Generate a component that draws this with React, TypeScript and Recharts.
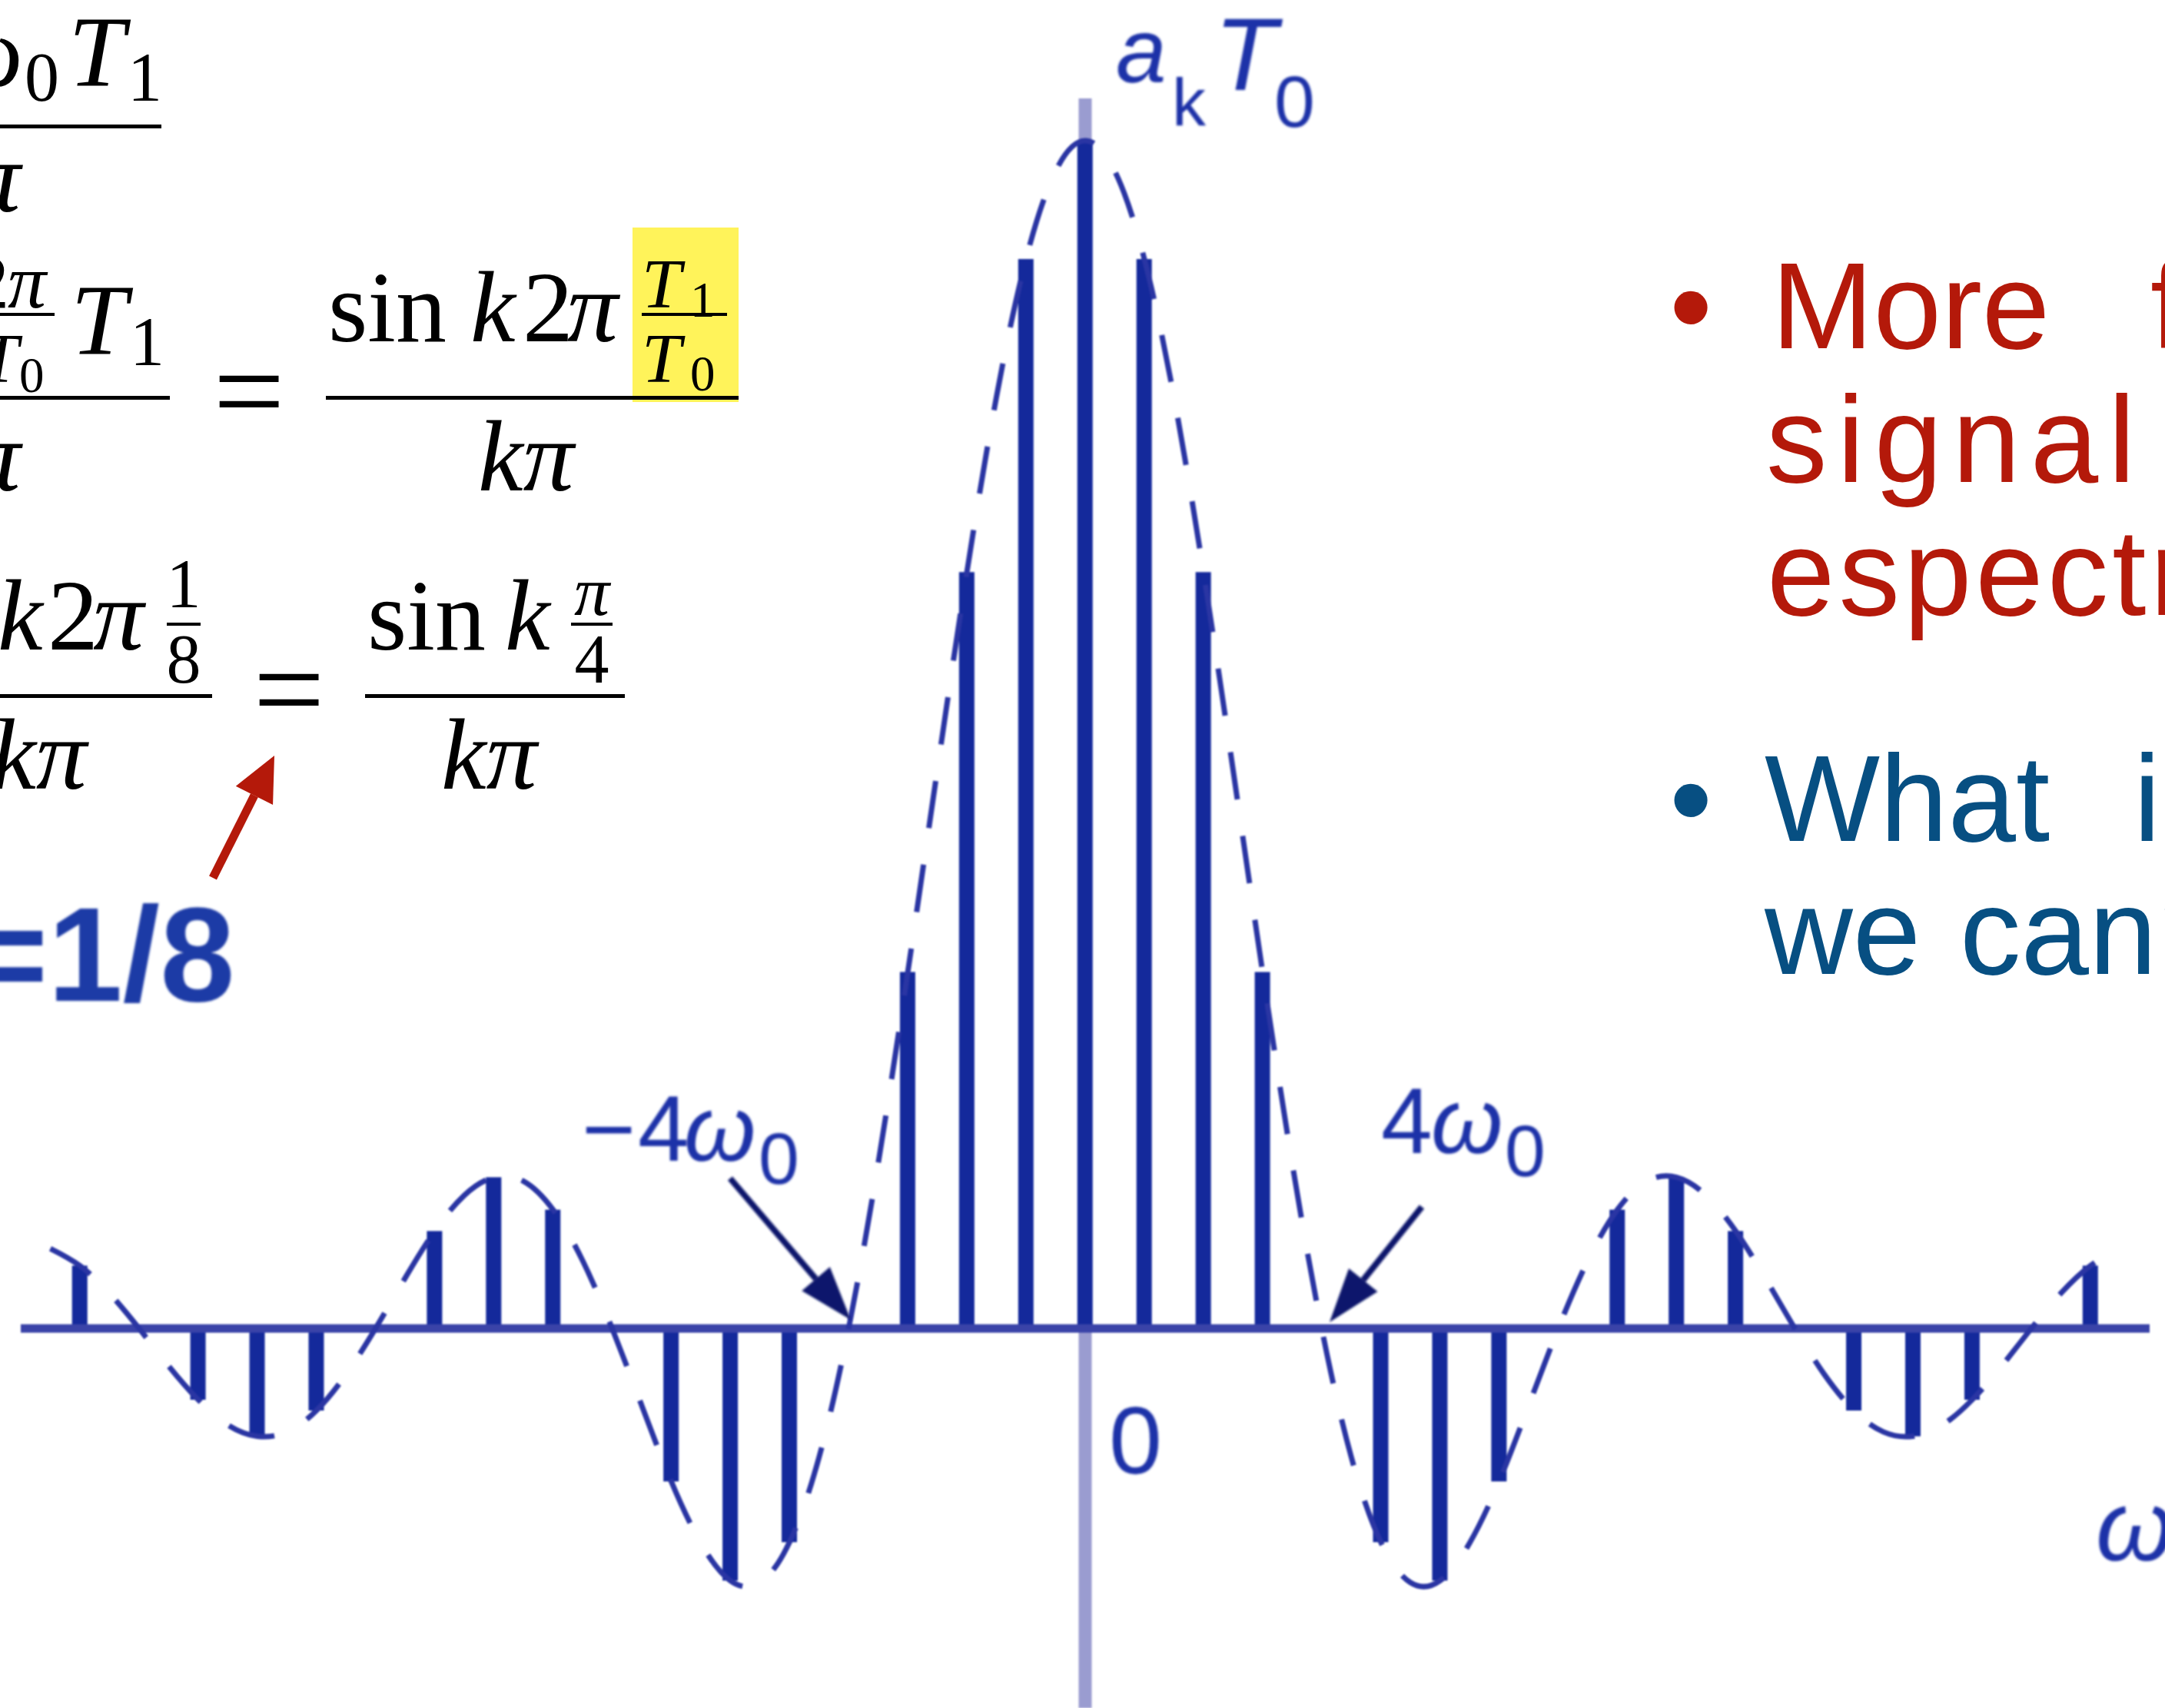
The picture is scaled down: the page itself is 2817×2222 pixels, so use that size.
import React from 'react';
import { ComposedChart, Bar, Line, XAxis, YAxis, ReferenceLine, CartesianGrid } from 'recharts';

// harmonic index k and the sampled spectrum a_k·T0 (T1/T0 = 1/8)
const harmonics = [
  -17, -16, -15, -14, -13, -12, -11, -10, -9, -8, -7, -6, -5, -4, -3, -2, -1,
  0, 1, 2, 3, 4, 5, 6, 7, 8, 9, 10, 11, 12, 13, 14, 15, 16, 17,
];
const akT0 = [
  0.0132, 0, -0.015, -0.0227, -0.0173, 0, 0.0205, 0.0318, 0.025, 0, -0.0322, -0.0531, -0.045, 0, 0.075, 0.1592, 0.2251,
  0.25, 0.2251, 0.1592, 0.075, 0, -0.045, -0.0531, -0.0322, 0, 0.025, 0.0318, 0.0205, 0, -0.0173, -0.0227, -0.015, 0, 0.0132,
];

// dashed envelope, sampled every half harmonic
const envelopeK = [
  -17.5, -17, -16.5, -16, -15.5, -15, -14.5, -14, -13.5, -13, -12.5, -12, -11.5, -11, -10.5, -10, -9.5, -9,
  -8.5, -8, -7.5, -7, -6.5, -6, -5.5, -5, -4.5, -4, -3.5, -3, -2.5, -2, -1.5, -1, -0.5,
  0, 0.5, 1, 1.5, 2, 2.5, 3, 3.5, 4, 4.5, 5, 5.5, 6, 6.5, 7, 7.5, 8, 8.5,
  9, 9.5, 10, 10.5, 11, 11.5, 12, 12.5, 13, 13.5, 14, 14.5, 15, 15.5, 16, 16.5, 17, 17.5,
];
const envelope = [
  0.0168, 0.0132, 0.0074, 0, -0.0079, -0.015, -0.0203, -0.0227, -0.0218, -0.0173, -0.0097, 0, 0.0106, 0.0205, 0.028, 0.0318, 0.031, 0.025,
  0.0143, 0, -0.0162, -0.0322, -0.0452, -0.0531, -0.0535, -0.045, -0.0271, 0, 0.0348, 0.075, 0.1176, 0.1592, 0.1961, 0.2251, 0.2436,
  0.25, 0.2436, 0.2251, 0.1961, 0.1592, 0.1176, 0.075, 0.0348, 0, -0.0271, -0.045, -0.0535, -0.0531, -0.0452, -0.0322, -0.0162, 0, 0.0143,
  0.025, 0.031, 0.0318, 0.028, 0.0205, 0.0106, 0, -0.0097, -0.0173, -0.0218, -0.0227, -0.0203, -0.015, -0.0079, 0, 0.0074, 0.0132, 0.0168,
];

const rows = envelopeK.map((k, i) => {
  const j = harmonics.indexOf(k);
  return { k, env: envelope[i], a: j >= 0 ? akT0[j] : null };
});

const W = 2817;
const H = 2222;

const STEM = '#14299b';
const LABEL = '#1f30a8';
const RED = '#b4190a';
const BLUE = '#074f82';
const serif = '"Liberation Serif", "DejaVu Serif", serif';
const sans = '"Liberation Sans", Arial, sans-serif';

const Arrow = ({ x1, y1, x2, y2, color, width, head, half }: any) => {
  const len = Math.hypot(x2 - x1, y2 - y1);
  const ux = (x2 - x1) / len;
  const uy = (y2 - y1) / len;
  const bx = x2 - ux * head;
  const by = y2 - uy * head;
  const px = -uy * half;
  const py = ux * half;
  return (
    <g>
      <line x1={x1} y1={y1} x2={bx} y2={by} stroke={color} strokeWidth={width} />
      <polygon points={`${x2},${y2} ${bx + px},${by + py} ${bx - px},${by - py}`} fill={color} />
    </g>
  );
};

// left-hand derivation, partly cut by the slide edge
const Formulas = () => (
  <g fontFamily={serif} fill="#000">
    {/* row 1 */}
    <text x={30} y={112} fontSize={132} fontStyle="italic" textAnchor="end">ω</text>
    <text x={32} y={131} fontSize={90}>0</text>
    <text x={89} y={112} fontSize={132} fontStyle="italic">T</text>
    <text x={166} y={131} fontSize={90}>1</text>
    <rect x={0} y={162} width={210} height={5} />
    <text x={27} y={275} fontSize={132} fontStyle="italic" textAnchor="end">kπ</text>

    {/* row 2 */}
    <text y={400} fontSize={100} fontStyle="italic">
      <tspan x={-38} fontStyle="normal">2</tspan>
      <tspan x={10}>π</tspan>
    </text>
    <rect x={0} y={407} width={71} height={4} />
    <text x={24} y={497} fontSize={90} fontStyle="italic" textAnchor="end">T</text>
    <text x={25} y={510} fontSize={65}>0</text>
    <text x={92} y={461} fontSize={132} fontStyle="italic">T</text>
    <text x={169} y={475} fontSize={90}>1</text>
    <rect x={0} y={515} width={221} height={5} />
    <text x={27} y={638} fontSize={132} fontStyle="italic" textAnchor="end">kπ</text>
    <text x={324} y={564} fontSize={165} textAnchor="middle">=</text>

    <rect x={823} y={296} width={138} height={227} fill="#fff35a" />
    <text y={444} fontSize={132}>
      <tspan x={427}>sin</tspan>
      <tspan x={612} fontStyle="italic">k</tspan>
      <tspan x={680}>2</tspan>
      <tspan x={738} fontStyle="italic">π</tspan>
    </text>
    <text x={835} y={400} fontSize={92} fontStyle="italic">T</text>
    <text x={898} y={412} fontSize={65}>1</text>
    <rect x={835} y={407} width={111} height={4} />
    <text x={835} y={497} fontSize={92} fontStyle="italic">T</text>
    <text x={898} y={508} fontSize={65}>0</text>
    <rect x={424} y={515} width={537} height={5} />
    <text x={622} y={638} fontSize={132} fontStyle="italic">kπ</text>

    {/* row 3 */}
    <text y={845} fontSize={132}>
      <tspan x={-3} fontStyle="italic">k</tspan>
      <tspan x={62}>2</tspan>
      <tspan x={121} fontStyle="italic">π</tspan>
    </text>
    <text x={239} y={790} fontSize={90} textAnchor="middle">1</text>
    <rect x={217} y={810} width={44} height={4} />
    <text x={239} y={888} fontSize={90} textAnchor="middle">8</text>
    <rect x={0} y={903} width={276} height={5} />
    <text x={113} y={1026} fontSize={132} fontStyle="italic" textAnchor="end">kπ</text>
    <text x={376} y={952} fontSize={165} textAnchor="middle">=</text>

    <text y={845} fontSize={132}>
      <tspan x={478}>sin</tspan>
      <tspan x={657} fontStyle="italic">k</tspan>
    </text>
    <text x={770} y={800} fontSize={92} fontStyle="italic" textAnchor="middle">π</text>
    <rect x={743} y={810} width={54} height={4} />
    <text x={770} y={888} fontSize={90} textAnchor="middle">4</text>
    <rect x={475} y={903} width={338} height={5} />
    <text x={574} y={1026} fontSize={132} fontStyle="italic">kπ</text>

    <Arrow x1={277} y1={1142} x2={357} y2={983} color={RED} width={11} head={58} half={27} />
    <text x={-40} y={1302} fontFamily={sans} fontWeight="bold" fontSize={175} fill="#1b3aa6" filter="url(#soft)">
      =1/8
    </text>
  </g>
);

// bullet text on the right, running off the slide edge
const Bullets = () => (
  <g fontFamily={sans} fontSize={159}>
    <g fill={RED}>
      <text x={2200} y={453} textAnchor="middle">•</text>
      <text x={2305} y={453}>More</text>
      <text x={2798} y={453}>f</text>
      <text x={2298} y={627} letterSpacing={13}>signal</text>
      <text x={2299} y={800} letterSpacing={5}>espectr</text>
    </g>
    <g fill={BLUE}>
      <text x={2200} y={1094} textAnchor="middle">•</text>
      <text x={2296} y={1094}>What</text>
      <text x={2776} y={1094} letterSpacing={12}>is</text>
      <text x={2296} y={1267}>we</text>
      <text x={2550} y={1267}>cann</text>
    </g>
  </g>
);

// axis labels and the two zero-crossing pointers
const ChartLabels = () => (
  <g fontFamily={sans} fill={LABEL} filter="url(#soft)">
    <text x={1452} y={107} fontSize={118} fontStyle="italic">a</text>
    <text x={1525} y={163} fontSize={88}>k</text>
    <text x={1580} y={117} fontSize={133} fontStyle="italic">T</text>
    <text x={1658} y={165} fontSize={95}>0</text>

    <text y={1510} fontSize={120}>
      <tspan x={757}>−</tspan>
      <tspan x={830}>4</tspan>
      <tspan x={890} fontStyle="italic">ω</tspan>
    </text>
    <text x={987} y={1540} fontSize={95}>0</text>

    <text y={1500} fontSize={120}>
      <tspan x={1797}>4</tspan>
      <tspan x={1862} fontStyle="italic">ω</tspan>
    </text>
    <text x={1958} y={1530} fontSize={95}>0</text>

    <text x={1443} y={1917} fontSize={124}>0</text>
    <text x={2727} y={2030} fontSize={130} fontStyle="italic">ω</text>

    <Arrow x1={950} y1={1533} x2={1107} y2={1717} color="#11146c" width={8} head={70} half={24} />
    <Arrow x1={1850} y1={1570} x2={1730} y2={1720} color="#11146c" width={8} head={70} half={24} />
  </g>
);

export default function App() {
  return (
    <div style={{ position: 'absolute', left: 0, top: 0, width: W, height: H, overflow: 'hidden', background: '#fff' }}>
      <div style={{ position: 'absolute', left: 0, top: 0, filter: 'blur(1.3px)' }}>
        <ComposedChart width={W} height={H} data={rows} margin={{ top: 128, right: 20, bottom: 0, left: 27 }}>
          <XAxis dataKey="k" type="number" domain={[-18, 18]} allowDataOverflow hide />
          <YAxis type="number" domain={[-0.0799, 0.2589]} allowDataOverflow hide />
          {/* light vertical ordinate axis, kept behind the stems */}
          <CartesianGrid horizontal={false} verticalValues={[0]} stroke="#9a9cd0" strokeWidth={17} />
          <ReferenceLine y={0} stroke="#3a43a8" strokeWidth={11} />
          <Bar dataKey="a" fill={STEM} barSize={20} isAnimationActive={false} />
          <Line
            dataKey="env"
            type="natural"
            stroke="#2a35a3"
            strokeWidth={7}
            strokeDasharray="62 48"
            dot={false}
            activeDot={false}
            isAnimationActive={false}
          />
        </ComposedChart>
      </div>
      <svg width={W} height={H} style={{ position: 'absolute', left: 0, top: 0 }}>
        <defs>
          <filter id="soft" x="-10%" y="-10%" width="120%" height="120%">
            <feGaussianBlur stdDeviation="1.4" />
          </filter>
        </defs>
        <Formulas />
        <Bullets />
        <ChartLabels />
      </svg>
    </div>
  );
}
